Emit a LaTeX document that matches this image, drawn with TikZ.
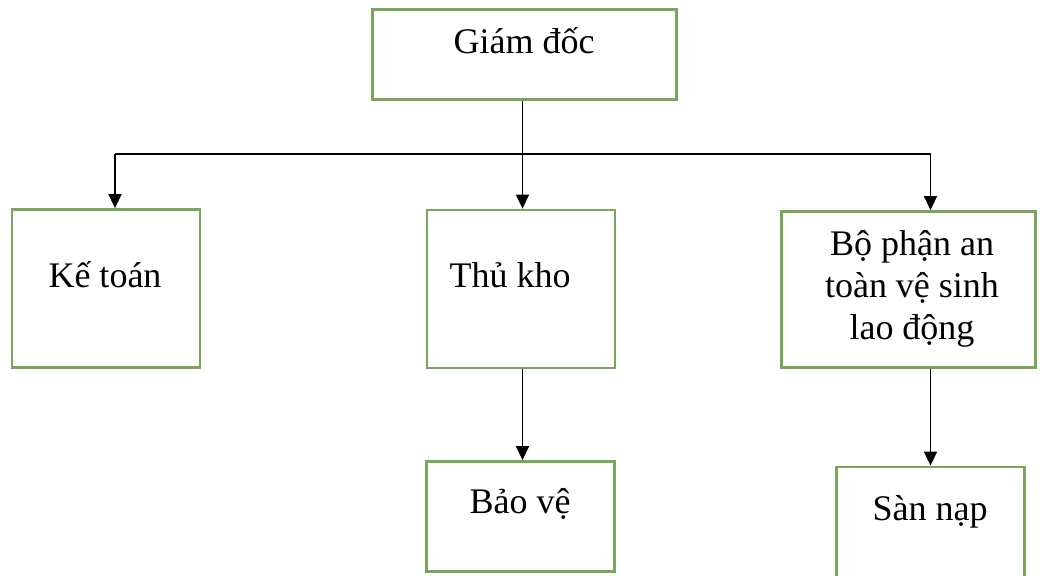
\documentclass[tikz,border=0pt]{standalone}
\usepackage{fontspec}
\setmainfont{Liberation Serif}
\usetikzlibrary{arrows.meta}
\definecolor{boxgreen}{RGB}{122,166,92}
\begin{document}
\begin{tikzpicture}[x = 0.5pt, y = -0.5pt,
		box/.style = {draw = boxgreen, line width = 1.4pt, fill = white, inner sep = 0pt},
		lbl/.style = {font = \fontsize{18}{21}\selectfont, align = center, anchor = base, inner sep = 0pt},
		arr/.style = {-{Triangle[length = 7pt, width = 6.5pt]}, line width = 0.8pt}]
	\useasboundingbox (0, 0) rectangle (1040, 575);

	% Boxes
	\node[box, minimum width = 152pt, minimum height = 45pt] (gd) at (524.5, 54.5) {};
	\node[box, minimum width = 94pt, minimum height = 79pt] (kt) at (106, 288.5) {};
	\node[box, minimum width = 94pt, minimum height = 79pt] (tk) at (521, 289) {};
	\node[box, minimum width = 127pt, minimum height = 78pt] (bp) at (908.5, 289.5) {};
	\node[box, minimum width = 94pt, minimum height = 55pt] (bv) at (520.5, 516.5) {};
	\node[box, minimum width = 94pt, minimum height = 56pt] (sn) at (930.5, 523) {};

	% Texts
	\node[lbl] (gd-t) at (524, 53) {Giám đốc};
	\node[lbl] (kt-t) at (105, 287) {Kế toán};
	\node[lbl] (tk-t) at (510, 287) {Thủ kho};
	\node[lbl] (bp-t) at (912, 339) {Bộ phận an\\toàn vệ sinh\\lao động};
	\node[lbl] (bv-t) at (520, 513) {Bảo vệ};
	\node[lbl] (sn-t) at (930, 520) {Sàn nạp};

	% Connectors
	\draw[line width = 0.8pt] ([xshift = -1pt]gd.south) -- ++(0, 53) coordinate (bus);
	\draw[line width = 0.8pt] ([xshift = 4.5pt]kt.north |- bus) -- (sn.north |- bus);
	\draw[arr] ([xshift = 4.5pt]kt.north |- bus) -- ([xshift = 4.5pt]kt.north);
	\draw[arr] (bus) -- (bus |- tk.north);
	\draw[arr] (sn.north |- bus) -- (sn.north |- bp.north);
	\draw[arr] (bus |- tk.south) -- (bus |- bv.north);
	\draw[arr] (sn.north |- bp.south) -- (sn.north);
\end{tikzpicture}
\end{document}
